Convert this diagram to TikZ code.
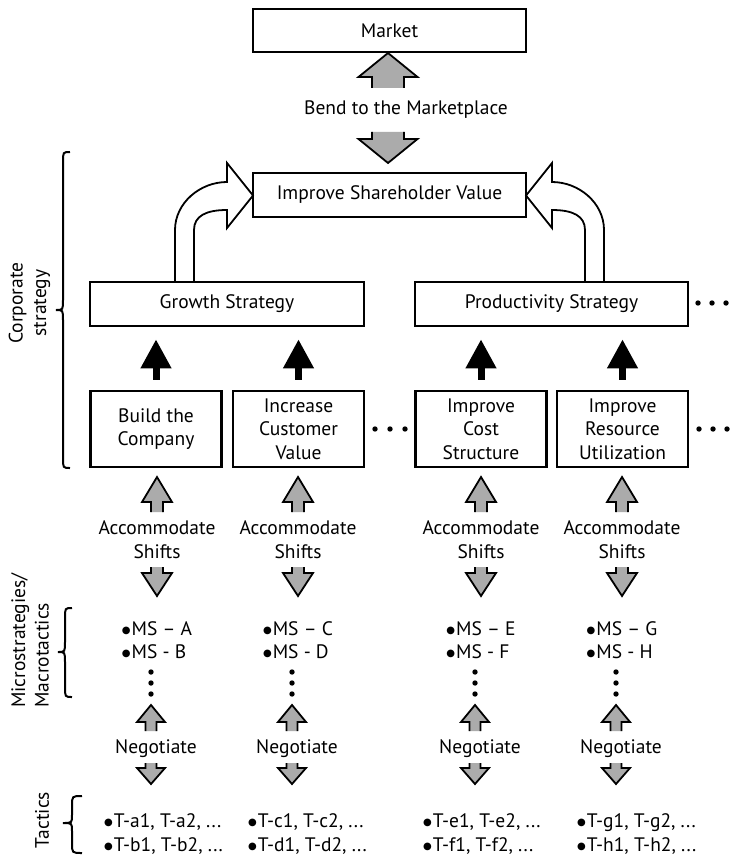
\documentclass[tikz,border=0pt]{standalone}
\usepackage{fontspec}
\setmainfont{PT Sans}
\newfontfamily\symfont{DejaVu Sans}
\usetikzlibrary{arrows.meta}
\newcommand{\dgfont}{\fontsize{19.5}{23.5}\selectfont}
\newcommand{\blt}{\raisebox{1.8pt}{\symfont\fontsize{10}{10}\selectfont ●}\kern1pt}
\definecolor{arrowgray}{gray}{0.67}
% gray block arrow: centre x, tip y, head base y, shaft end y, head half width, shaft half width
\newcommand{\grayblock}[6]{%
  \fill[arrowgray] (#1,#2) -- ({#1+#5},#3) -- ({#1+#6},#3) -- ({#1+#6},#4)
    -- ({#1-#6},#4) -- ({#1-#6},#3) -- ({#1-#5},#3) -- cycle;
  \draw[outl] ({#1+#6},#4) -- ({#1+#6},#3) -- ({#1+#5},#3) -- (#1,#2)
    -- ({#1-#5},#3) -- ({#1-#6},#3) -- ({#1-#6},#4);}
\begin{document}
\begin{tikzpicture}[x=1pt,y=-1pt,
  box/.style={draw, line width=2.6pt, minimum height=44pt, inner sep=0pt,
    font=\dgfont, align=center},
  tallbox/.style={box, minimum width=131pt, minimum height=76pt},
  lbl/.style={font=\dgfont, align=center, inner sep=0pt},
  listtext/.style={font=\dgfont, align=left, inner sep=0pt},
  outl/.style={line width=1.8pt, line join=miter},
  blackarrow/.style={line width=7pt, -{Triangle[length=29pt,width=29pt]}},
  dot/.style={fill=black, draw=none},
  sidelbl/.style={font=\dgfont, inner sep=0pt, rotate=90},
  brace/.style={line width=2pt}]
\useasboundingbox (0,0) rectangle (730,861);

% top boxes
\node[box, minimum width=273pt, minimum height=43pt] (market) at (389.5,30.5) {Market};
\node[box, minimum width=273pt] (share) at (389.5,195) {Improve Shareholder Value};
\node[lbl] (bend) at (406,110) {Bend to the Marketplace};
\grayblock{388}{53}{77}{88}{29.5}{16}
\grayblock{388}{163}{139}{132}{29.5}{16}

% strategy boxes
\node[box, minimum width=274pt] (growth) at (227,304) {Growth Strategy};
\node[box, minimum width=273pt] (prod) at (551.5,304) {Productivity Strategy};

% curved block arrows into the shareholder box
\draw[outl] (175,282) -- (175,230) .. controls (175,203) and (200,182) .. (227,182)
  -- (227,163) -- (253,195.5) -- (227,228) -- (227,210)
  .. controls (206,210) and (194,216) .. (194,230) -- (194,282);
\draw[outl] (604,282) -- (604,230) .. controls (604,203) and (579,182) .. (552,182)
  -- (552,163) -- (526,195.5) -- (552,228) -- (552,210)
  .. controls (573,210) and (585,216) .. (585,230) -- (585,282);

% initiative boxes
\node[tallbox] (build) at (156,429) {Build the\\Company};
\node[tallbox] (incr) at (298.5,429) {Increase\\Customer\\Value};
\node[tallbox] (cost) at (481,429) {Improve\\Cost\\Structure};
\node[tallbox] (res) at (622.5,429) {Improve\\Resource\\Utilization};

% black arrows up to the strategies
\foreach \b/\s in {build/growth, incr/growth, cost/prod, res/prod}
  \draw[blackarrow, shorten <=10pt, shorten >=12pt] (\b.north) -- (\b.north |- \s.south);

% ellipsis dots
\foreach \x in {375,390,405} \fill[dot] (\x,429) circle (2.7);
\foreach \x in {699,713,727} \fill[dot] (\x,429) circle (2.7);
\foreach \x in {698,712,726} \fill[dot] (\x,303) circle (2.7);

% accommodate shifts
\foreach \c in {157,298,481,622} {
  \grayblock{\c}{477}{502}{512}{15}{6}
  \grayblock{\c}{596}{573}{567}{15}{6}
}
\node[lbl] (acc1) at (157,539.5) {Accommodate\\Shifts};
\node[lbl] (acc2) at (298,539.5) {Accommodate\\Shifts};
\node[lbl] (acc3) at (481,539.5) {Accommodate\\Shifts};
\node[lbl] (acc4) at (622,539.5) {Accommodate\\Shifts};

% microstrategies
\node[listtext] (ms1) at (157,640) {\blt MS -- A\\\blt MS - B};
\node[listtext] (ms2) at (298,640) {\blt MS -- C\\\blt MS - D};
\node[listtext] (ms3) at (481,640) {\blt MS -- E\\\blt MS - F};
\node[listtext] (ms4) at (622,640) {\blt MS -- G\\\blt MS - H};
\foreach \c in {151,292,475,616}
  \foreach \y in {672,683,694} \fill[dot] (\c,\y) circle (2.7);

% negotiate
\foreach \c in {151,292,475,616} {
  \grayblock{\c}{705}{722}{731}{14}{5.5}
  \grayblock{\c}{784}{768}{763}{14}{5.5}
}
\node[lbl] (neg1) at (156,749) {Negotiate};
\node[lbl] (neg2) at (297,749) {Negotiate};
\node[lbl] (neg3) at (480,749) {Negotiate};
\node[lbl] (neg4) at (621,749) {Negotiate};

% tactics
\node[listtext, anchor=west] (t1) at (104,834) {\blt T-a1, T-a2, ...\\\blt T-b1, T-b2, ...};
\node[listtext, anchor=west] (t2) at (248,834) {\blt T-c1, T-c2, ...\\\blt T-d1, T-d2, ...};
\node[listtext, anchor=west] (t3) at (423,834) {\blt T-e1, T-e2, ...\\\blt T-f1, T-f2, ...};
\node[listtext, anchor=west] (t4) at (577,834) {\blt T-g1, T-g2, ...\\\blt T-h1, T-h2, ...};

% side labels and braces
\node[sidelbl, align=center] (corp) at (29.5,303) {Corporate\\strategy};
\node[sidelbl, align=left, anchor=west] (micro) at (30,708) {Microstrategies/\\Macrotactics};
\node[sidelbl] (tact) at (42,820) {Tactics};

\draw[brace] (70,152) .. controls (63,152) .. (63,162) -- (63,300)
  .. controls (63,310) .. (56,310) .. controls (63,310) .. (63,320) -- (63,458)
  .. controls (63,468) .. (70,468);
\draw[brace] (72,608) .. controls (65,608) .. (65,618) -- (65,642)
  .. controls (65,652) .. (58,652) .. controls (65,652) .. (65,662) -- (65,687)
  .. controls (65,697) .. (72,697);
\draw[brace] (82,796) .. controls (72,796) .. (72,806) -- (72,815)
  .. controls (72,823) .. (63,823) .. controls (72,823) .. (72,831) -- (72,843)
  .. controls (72,853) .. (82,853);
\end{tikzpicture}
\end{document}
